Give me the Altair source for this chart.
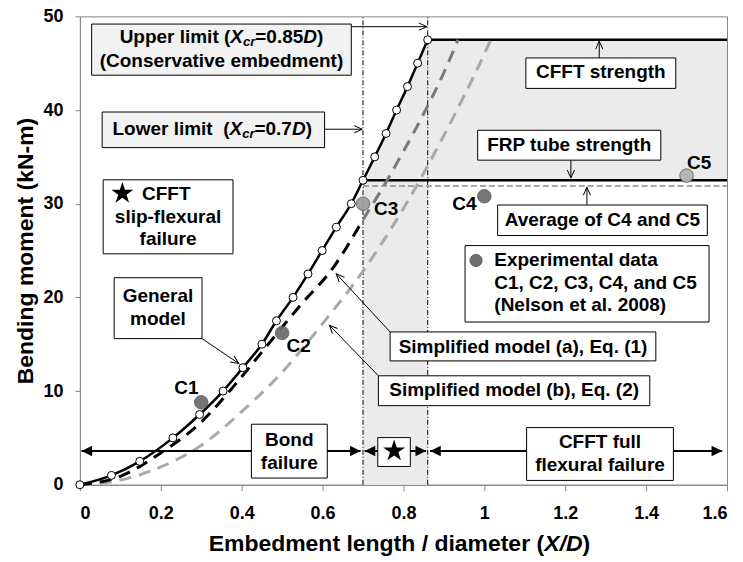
import math
import altair as alt
import pandas as pd

# ---------------- data ----------------
x_ticks = [0, 0.2, 0.4, 0.6, 0.8, 1.0, 1.2, 1.4, 1.6]
y_ticks = [0, 10, 20, 30, 40, 50]

# General model (markers every 2.5 kN-m)
gen_x = [0, 0.078, 0.148, 0.230, 0.296, 0.354, 0.403, 0.450, 0.486, 0.527, 0.564,
         0.599, 0.634, 0.671, 0.700, 0.729, 0.757, 0.783, 0.810, 0.835, 0.860]
gen_y = [0, 1.0, 2.5, 5.0, 7.5, 10.0, 12.5, 15.0, 17.5, 20.0, 22.5,
         25.0, 27.5, 30.0, 32.5, 35.0, 37.5, 40.0, 42.5, 45.0, 47.5]

# Simplified model (a), Eq. (1): valid part (black) and extension (grey)
sa_x = [0, 0.1, 0.2, 0.3, 0.38, 0.46, 0.54, 0.63, 0.70]
sa_y = [0, 0.9, 3.4, 6.7, 10.5, 14.7, 18.9, 23.4, 28.3]
sa_ext_x = [0.70, 0.75, 0.80, 0.85, 0.90, 0.935]
sa_ext_y = [28.3, 31.8, 35.6, 39.6, 44.0, 47.5]

# Simplified model (b), Eq. (2)
sb_x = [0, 0.1, 0.2, 0.3, 0.4, 0.5, 0.6, 0.7, 0.8, 0.9, 1.0, 1.016]
sb_y = [0, 0.5, 1.9, 4.2, 7.8, 12.0, 17.2, 22.8, 29.5, 37.3, 46.0, 47.5]

# Experimental data (Nelson et al. 2008)
exp_names = ["C1", "C2", "C3", "C4", "C5"]
exp_x = [0.3, 0.5, 0.7, 1.0, 1.5]
exp_y = [8.8, 16.2, 30.0, 30.8, 33.0]

x_lower = 0.70        # Xcr = 0.7D
x_upper = 0.86        # Xcr = 0.85D
frp_strength = 32.5
cfft_strength = 47.5
avg_c4_c5 = 31.9

# ---------------- styling ----------------
F = "Liberation Sans"
W, H = 648, 469
PXX = W / 1.6
PXY = H / 50.0
xs = alt.Scale(domain=[0, 1.6], nice=False, zero=False)
ys = alt.Scale(domain=[0, 50], nice=False, zero=False)
XAX = alt.Axis(values=x_ticks, format="~g", title=None, tickSize=6, labelPadding=14)
YAX = alt.Axis(values=y_ticks, title="Bending moment (kN-m)", tickSize=5, labelPadding=12,
               titlePadding=5, titleLimit=1000)
exp_fill = {"C1": "#6f6f6f", "C2": "#6f6f6f", "C3": "#9c9c9c", "C4": "#6f6f6f", "C5": "#b4b4b4"}
STAR = ("M0,-1L0.2245,-0.309L0.9511,-0.309L0.3633,0.118L0.5878,0.809L0,0.382"
        "L-0.5878,0.809L-0.3633,0.118L-0.9511,-0.309L-0.2245,-0.309Z")
CHEV = "M-0.45,1L0,0L0.45,1"
TRI = "M0,0L-0.5,1L0.5,1Z"


def X(f):
    return alt.X(f, type="quantitative", scale=xs, axis=XAX)


def Y(f):
    return alt.Y(f, type="quantitative", scale=ys, axis=YAX)


# Arial/Liberation Sans Bold advance widths (per 1000 em)
AW = {' ': 278, '\u00a0': 278, '(': 333, ')': 333, '=': 584, '.': 278, ',': 278, '/': 278, '-': 333,
      'U': 722, 'p': 611, 'e': 556, 'r': 389, 'l': 278, 'i': 278, 'm': 889, 't': 333,
      'L': 611, 'o': 611, 'w': 778, 'X': 667, 'c': 556, 'D': 722, 'E': 667, 'b': 611,
      'd': 611, 'n': 611, 'g': 611, 'h': 611, 'a': 556}


def tw(s, size):
    return sum(AW.get(c, 556) for c in s) * size / 1000.0


def runs(parts, cx, cy, size=19, sub=13):
    widths = [tw(t, sub if st == "s" else size) for t, st in parts]
    x = cx - sum(widths) / 2 / PXX
    rows = []
    for (t, st), w in zip(parts, widths):
        rows.append(dict(x=x, y=cy, t=t, st=st))
        x += w / PXX
    return rows


def ang(x0, y0, x1, y1):
    dxp = (x1 - x0) * PXX
    dyp = -(y1 - y0) * PXY
    return math.degrees(math.atan2(dxp, -dyp)) % 360


layers = []

# ---------------- shading ----------------
band = pd.DataFrame([dict(x=x_lower, x2=x_upper, y=0, y2=frp_strength)])
layers.append(alt.Chart(band).mark_rect(color="#ebebeb").encode(
    x=X("x"), x2="x2", y=Y("y"), y2="y2"))
upper_poly = pd.DataFrame([dict(xl=a, xr=1.6, y=b) for a, b in zip(gen_x, gen_y) if b >= frp_strength])
layers.append(alt.Chart(upper_poly).mark_area(orient="horizontal", color="#ebebeb").encode(
    y=Y("y"), x=X("xl"), x2="xr"))

# ---------------- limit lines ----------------
vlines = pd.DataFrame([dict(x=x_lower, y=0, y2=50), dict(x=x_upper, y=0, y2=50)])
layers.append(alt.Chart(vlines).mark_rule(color="black", strokeWidth=1, strokeDash=[5, 2, 1, 2]).encode(
    x=X("x"), y=Y("y"), y2="y2"))

hl = pd.DataFrame([dict(x=x_lower, x2=1.6, y=frp_strength), dict(x=x_upper, x2=1.6, y=cfft_strength)])
layers.append(alt.Chart(hl).mark_rule(color="black", strokeWidth=2.5).encode(
    x=X("x"), x2="x2", y=Y("y")))
avg = pd.DataFrame([dict(x=x_lower, x2=1.6, y=avg_c4_c5)])
layers.append(alt.Chart(avg).mark_rule(color="#8a8a8a", strokeWidth=1.5, strokeDash=[6, 3]).encode(
    x=X("x"), x2="x2", y=Y("y")))

# ---------------- model curves ----------------
df_b = pd.DataFrame(dict(x=sb_x, y=sb_y))
layers.append(alt.Chart(df_b).mark_line(color="#a8a8a8", strokeWidth=3, strokeDash=[12, 8],
                                        interpolate="monotone").encode(x=X("x"), y=Y("y")))
df_ae = pd.DataFrame(dict(x=sa_ext_x, y=sa_ext_y))
layers.append(alt.Chart(df_ae).mark_line(color="#7a7a7a", strokeWidth=3, strokeDash=[12, 8],
                                         interpolate="monotone").encode(x=X("x"), y=Y("y")))
df_a = pd.DataFrame(dict(x=sa_x, y=sa_y))
layers.append(alt.Chart(df_a).mark_line(color="black", strokeWidth=3, strokeDash=[12, 8],
                                        interpolate="monotone").encode(x=X("x"), y=Y("y")))

df_g = pd.DataFrame(dict(x=gen_x, y=gen_y))
layers.append(alt.Chart(df_g).mark_line(color="black", strokeWidth=2.5, interpolate="monotone").encode(
    x=X("x"), y=Y("y")))

# ---------------- experimental points ----------------
df_e = pd.DataFrame(dict(x=exp_x, y=exp_y, n=exp_names, col=[exp_fill[n] for n in exp_names]))
layers.append(alt.Chart(df_e).mark_point(shape="circle", filled=True, opacity=0.95, size=185,
                                         stroke="#555555", strokeWidth=0.8).encode(
    x=X("x"), y=Y("y"), fill=alt.Fill("col:N", scale=None)))

layers.append(alt.Chart(df_g).mark_point(shape="circle", filled=True, fill="white", stroke="black",
                                         strokeWidth=1, size=64, opacity=1).encode(x=X("x"), y=Y("y")))

# ---------------- annotation boxes ----------------
boxes = pd.DataFrame([
    dict(x=0.029, x2=0.671, y=43.72, y2=49.18, f="#f2f2f2"),
    dict(x=0.055, x2=0.605, y=35.99, y2=39.79, f="#f2f2f2"),
    dict(x=0.0575, x2=0.3785, y=24.65, y2=32.55, f="white"),
    dict(x=0.0847, x2=0.302, y=15.6, y2=22.1, f="white"),
    dict(x=0.424, x2=0.6116, y=0.71, y2=6.46, f="white"),
    dict(x=0.7365, x2=0.817, y=1.95, y2=5.03, f="white"),
    dict(x=1.1045, x2=1.4674, y=0.46, y2=6.10, f="white"),
    dict(x=0.767, x2=1.424, y=13.22, y2=16.31, f="white"),
    dict(x=0.738, x2=1.409, y=8.44, y2=11.63, f="white"),
    dict(x=0.9523, x2=1.5556, y=17.37, y2=25.53, f="white"),
    dict(x=1.0328, x2=1.5514, y=26.6, y2=29.86, f="white"),
    dict(x=0.9835, x2=1.4363, y=34.65, y2=37.84, f="white"),
    dict(x=1.1027, x2=1.4733, y=42.31, y2=45.56, f="white"),
])

# arrows: thin (single chevron head) and thick double arrows
thin = [
    (0.671, 48.9, 0.858, 48.9),
    (0.605, 37.95, 0.698, 37.95),
    (0.302, 15.6, 0.3926, 12.95),
    (0.767, 16.31, 0.634, 22.52),
    (0.738, 11.63, 0.617, 17.02),
    (1.2536, 29.86, 1.2536, 31.75),
    (1.214, 34.65, 1.214, 32.75),
    (1.284, 45.56, 1.284, 47.35),
]
thick = [
    (0.004, 3.6, 0.694, 3.6),
    (0.704, 3.6, 0.856, 3.6),
    (0.866, 3.6, 1.588, 3.6),
]
rules_thin = pd.DataFrame([dict(x=a, y=b, x2=c, y2=d) for a, b, c, d in thin])
rules_thick = pd.DataFrame([dict(x=a, y=b, x2=c, y2=d) for a, b, c, d in thick])
layers.append(alt.Chart(rules_thin).mark_rule(color="black", strokeWidth=1).encode(
    x=X("x"), y=Y("y"), x2="x2", y2="y2"))
layers.append(alt.Chart(rules_thick).mark_rule(color="black", strokeWidth=2).encode(
    x=X("x"), y=Y("y"), x2="x2", y2="y2"))
layers.append(alt.Chart(boxes).mark_rect(stroke="black", strokeWidth=1).encode(
    x=X("x"), x2="x2", y=Y("y"), y2="y2", fill=alt.Fill("f:N", scale=None)))

heads_thin = pd.DataFrame([dict(x=c, y=d, a=ang(a, b, c, d)) for a, b, c, d in thin])
heads_thick = pd.DataFrame([dict(x=c, y=d, a=ang(a, b, c, d)) for a, b, c, d in thick] +
                           [dict(x=a, y=b, a=ang(c, d, a, b)) for a, b, c, d in thick])
layers.append(alt.Chart(heads_thin).mark_point(shape=CHEV, filled=False, color="black", strokeWidth=1,
                                               size=256, opacity=1).encode(
    x=X("x"), y=Y("y"), angle=alt.Angle("a:Q", scale=None)))
layers.append(alt.Chart(heads_thick).mark_point(shape=TRI, filled=True, color="black",
                                                size=450, opacity=1).encode(
    x=X("x"), y=Y("y"), angle=alt.Angle("a:Q", scale=None)))

# symbols inside boxes
stars = pd.DataFrame([dict(x=0.105, y=31.1), dict(x=0.777, y=3.6)])
layers.append(alt.Chart(stars).mark_point(shape=STAR, filled=True, color="black", size=530,
                                          opacity=1).encode(x=X("x"), y=Y("y")))
leg = pd.DataFrame([dict(x=0.9795, y=23.94)])
layers.append(alt.Chart(leg).mark_point(shape="circle", filled=True, color="#6f6f6f", size=150,
                                        stroke="#555555", strokeWidth=0.8, opacity=1).encode(
    x=X("x"), y=Y("y")))

# ---------------- texts ----------------
center_txt = pd.DataFrame([
    dict(x=0.35, y=45.21, t="(Conservative embedment)"),
    dict(x=0.2136, y=31.06, t="CFFT"),
    dict(x=0.218, y=28.54, t="slip-flexural"),
    dict(x=0.218, y=26.24, t="failure"),
    dict(x=0.193, y=20.11, t="General"),
    dict(x=0.193, y=17.73, t="model"),
    dict(x=0.5177, y=4.79, t="Bond"),
    dict(x=0.5177, y=2.37, t="failure"),
    dict(x=1.286, y=4.54, t="CFFT full"),
    dict(x=1.286, y=2.13, t="flexural failure"),
    dict(x=1.0956, y=14.71, t="Simplified model (a), Eq. (1)"),
    dict(x=1.0736, y=10.11, t="Simplified model (b), Eq. (2)"),
    dict(x=1.292, y=28.27, t="Average of C4 and C5"),
    dict(x=1.2099, y=36.24, t="FRP tube strength"),
    dict(x=1.288, y=44.04, t="CFFT strength"),
    dict(x=0.2635, y=10.29, t="C1"),
    dict(x=0.5407, y=14.79, t="C2"),
    dict(x=0.757, y=29.44, t="C3"),
    dict(x=0.9506, y=29.97, t="C4"),
    dict(x=1.531, y=34.39, t="C5"),
])
layers.append(alt.Chart(center_txt).mark_text(font=F, fontWeight="bold", fontSize=19, color="black",
                                              align="center", baseline="middle").encode(
    x=X("x"), y=Y("y"), text="t:N"))

left_txt = pd.DataFrame([
    dict(x=1.0247, y=23.94, t="Experimental data"),
    dict(x=1.0247, y=21.56, t="C1, C2, C3, C4, and C5"),
    dict(x=1.0247, y=19.22, t="(Nelson et al. 2008)"),
])
layers.append(alt.Chart(left_txt).mark_text(font=F, fontWeight="bold", fontSize=19, color="black",
                                            align="left", baseline="middle").encode(
    x=X("x"), y=Y("y"), text="t:N"))

rich = pd.DataFrame(
    runs([("Upper limit (", "n"), ("X", "i"), ("cr", "s"), ("=0.85", "n"), ("D", "i"), (")", "n")], 0.35, 47.77)
    + runs([("Lower limit\u00a0 (", "n"), ("X", "i"), ("cr", "s"), ("=0.7", "n"), ("D", "i"), (")", "n")],
           0.3272, 37.98)
)
for st, style, size, dy in [("n", "normal", 19, 0), ("i", "italic", 19, 0), ("s", "italic", 13, 5)]:
    layers.append(alt.Chart(rich[rich.st == st]).mark_text(
        font=F, fontWeight="bold", fontStyle=style, fontSize=size, color="black",
        align="left", baseline="middle", dy=dy).encode(x=X("x"), y=Y("y"), text="t:N"))

# x-axis title with italic X/D (pixel positions below the plot area)
xt_parts = [("Embedment length / diameter (", "normal"), ("X/D", "italic"), (")", "normal")]
xt_size = 23
xt_w = [tw(t, xt_size) for t, _ in xt_parts]
px = 320 - sum(xt_w) / 2
for (t, style), w in zip(xt_parts, xt_w):
    layers.append(alt.Chart(pd.DataFrame([dict(t=t)])).mark_text(
        font=F, fontWeight="bold", fontStyle=style, fontSize=xt_size, color="black",
        align="left", baseline="middle").encode(x=alt.value(px), y=alt.value(528), text="t:N"))
    px += w

chart = alt.layer(*layers).properties(
    width=W, height=H,
    autosize=alt.AutoSizeParams(type="none"),
    padding={"left": 72, "top": 8, "right": 8, "bottom": 76},
).configure_view(stroke="#868686", strokeWidth=1).configure_axis(
    domainColor="#868686", tickColor="#868686", grid=False,
    labelFont=F, labelFontWeight="bold", labelFontSize=18, labelColor="black",
    titleFont=F, titleFontWeight="bold", titleFontSize=23, titleColor="black", titleLimit=1000,
)

chart.save("out.html", embed_options={"renderer": "svg", "actions": False})
